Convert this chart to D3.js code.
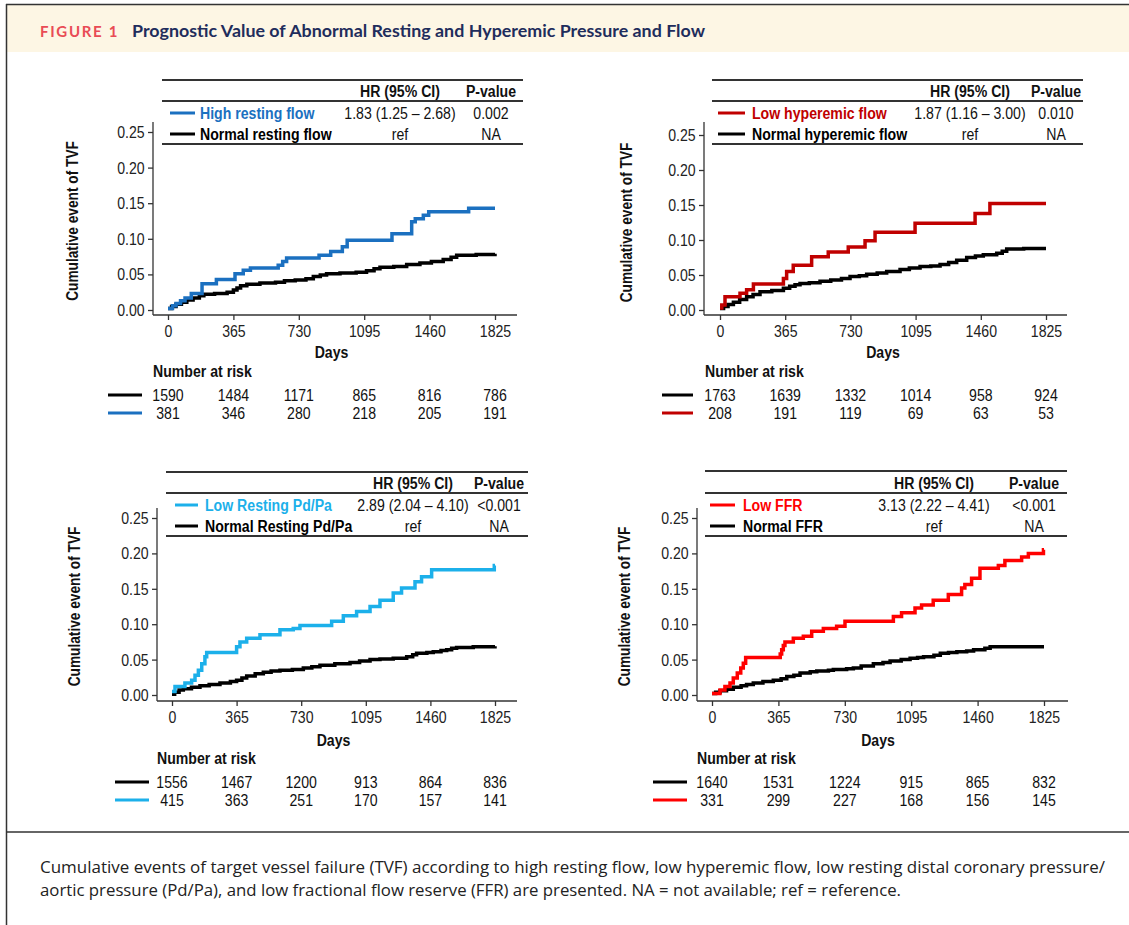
<!DOCTYPE html>
<html>
<head>
<meta charset="utf-8">
<script src="https://cdn.jsdelivr.net/npm/d3@7"></script>
<style>
  body { margin: 0; background: #fff; }
  svg { display: block; }
</style>
</head>
<body>
<div id="fig"></div>
<script>
// ---- data ----
const dayTicks = [0, 365, 730, 1095, 1460, 1825];
const yTicks = [0, 0.05, 0.10, 0.15, 0.20, 0.25];

const abnormalNames = ["High resting flow", "Low hyperemic flow", "Low Resting Pd/Pa", "Low FFR"];
const normalNames = ["Normal resting flow", "Normal hyperemic flow", "Normal Resting Pd/Pa", "Normal FFR"];
const hrValues = ["1.83 (1.25 \u2013 2.68)", "1.87 (1.16 \u2013 3.00)", "2.89 (2.04 \u2013 4.10)", "3.13 (2.22 \u2013 4.41)"];
const pValues = ["0.002", "0.010", "<0.001", "<0.001"];
const abnormalColors = ["#1b70c0", "#c00000", "#1cb0ea", "#ff0000"];

// number at risk: [normal, abnormal] at each day tick
const riskRestFlow = [[1590, 1484, 1171, 865, 816, 786], [381, 346, 280, 218, 205, 191]];
const riskHypFlow = [[1763, 1639, 1332, 1014, 958, 924], [208, 191, 119, 69, 63, 53]];
const riskPdPa = [[1556, 1467, 1200, 913, 864, 836], [415, 363, 251, 170, 157, 141]];
const riskFFR = [[1640, 1531, 1224, 915, 865, 832], [331, 299, 227, 168, 156, 145]];

// cumulative TVF curves, [day, cumulative event]
const highRestFlow = [[0,0.002],[25,0.006],[45,0.009],[70,0.013],[95,0.017],[130,0.023],[190,0.037],[270,0.043],[374,0.051],[420,0.056],[460,0.059],[615,0.063],[640,0.068],[662,0.073],[843,0.077],[908,0.082],[973,0.089],[1000,0.098],[1250,0.107],[1360,0.124],[1380,0.128],[1425,0.133],[1455,0.138],[1678,0.143],[1825,0.143]];
const normalRestFlow = [[0,0.002],[20,0.005],[45,0.008],[75,0.011],[105,0.014],[140,0.017],[175,0.020],[200,0.022],[260,0.023],[330,0.025],[365,0.028],[385,0.031],[405,0.034],[440,0.036],[513,0.038],[600,0.039],[650,0.041],[710,0.042],[770,0.044],[811,0.047],[850,0.049],[885,0.051],[960,0.052],[1050,0.053],[1108,0.055],[1150,0.058],[1183,0.060],[1260,0.061],[1332,0.064],[1406,0.066],[1470,0.068],[1536,0.071],[1580,0.074],[1611,0.077],[1720,0.078],[1825,0.079]];

const lowHypFlow = [[0,0.003],[10,0.007],[28,0.019],[112,0.024],[149,0.029],[187,0.037],[355,0.045],[373,0.055],[410,0.064],[513,0.076],[606,0.083],[718,0.090],[812,0.099],[868,0.111],[1092,0.124],[1428,0.138],[1511,0.152],[1825,0.152]];
const normalHypFlow = [[0,0.002],[20,0.005],[45,0.008],[75,0.011],[110,0.015],[149,0.019],[185,0.022],[224,0.026],[290,0.028],[355,0.031],[390,0.034],[420,0.036],[448,0.038],[500,0.039],[560,0.041],[620,0.043],[680,0.045],[728,0.048],[780,0.049],[821,0.051],[880,0.053],[933,0.055],[1008,0.058],[1060,0.060],[1120,0.062],[1180,0.063],[1232,0.065],[1280,0.068],[1325,0.071],[1381,0.075],[1430,0.077],[1474,0.079],[1549,0.081],[1580,0.084],[1605,0.087],[1700,0.088],[1825,0.088]];

const lowPdPa = [[0,0.005],[17,0.012],[73,0.017],[111,0.021],[130,0.028],[149,0.035],[168,0.044],[186,0.054],[196,0.060],[365,0.068],[384,0.075],[422,0.080],[497,0.085],[610,0.092],[685,0.094],[723,0.098],[902,0.104],[968,0.112],[1043,0.118],[1119,0.125],[1175,0.134],[1250,0.144],[1297,0.151],[1373,0.160],[1410,0.167],[1467,0.177],[1821,0.183],[1825,0.183]];
const normalPdPa = [[0,0.001],[15,0.004],[40,0.007],[64,0.009],[110,0.011],[158,0.013],[210,0.015],[271,0.017],[330,0.019],[365,0.021],[395,0.024],[422,0.027],[470,0.030],[516,0.032],[560,0.034],[610,0.035],[680,0.036],[742,0.038],[790,0.040],[836,0.042],[920,0.044],[1006,0.046],[1060,0.048],[1119,0.050],[1175,0.051],[1250,0.052],[1326,0.054],[1360,0.057],[1382,0.059],[1440,0.060],[1476,0.061],[1520,0.063],[1552,0.064],[1580,0.066],[1608,0.067],[1702,0.068],[1825,0.069]];

const lowFFR = [[0,0.002],[44,0.007],[71,0.012],[99,0.017],[117,0.024],[139,0.031],[158,0.038],[172,0.045],[185,0.053],[375,0.058],[383,0.064],[392,0.070],[401,0.075],[447,0.080],[502,0.083],[548,0.090],[612,0.094],[685,0.097],[731,0.104],[997,0.111],[1042,0.116],[1116,0.123],[1152,0.127],[1216,0.134],[1299,0.142],[1372,0.151],[1390,0.156],[1427,0.165],[1473,0.179],[1574,0.183],[1610,0.190],[1702,0.195],[1739,0.200],[1822,0.205],[1825,0.205]];
const normalFFR = [[0,0.002],[20,0.004],[44,0.006],[80,0.008],[117,0.011],[160,0.013],[190,0.015],[227,0.017],[280,0.019],[337,0.021],[380,0.023],[411,0.026],[450,0.028],[484,0.031],[540,0.033],[576,0.034],[640,0.035],[667,0.036],[740,0.037],[777,0.038],[820,0.041],[887,0.044],[940,0.046],[979,0.048],[1040,0.050],[1089,0.052],[1130,0.053],[1163,0.054],[1220,0.056],[1255,0.059],[1300,0.060],[1346,0.061],[1400,0.062],[1438,0.064],[1500,0.066],[1529,0.068],[1825,0.068]];

const abnormalCurves = [highRestFlow, lowHypFlow, lowPdPa, lowFFR];
const normalCurves = [normalRestFlow, normalHypFlow, normalPdPa, normalFFR];
const riskTables = [riskRestFlow, riskHypFlow, riskPdPa, riskFFR];

// ---- page layout (pixel positions for each panel) ----
const W = 1129, H = 925;
const layout = [
  {ax:153, bx:315, x0:168, x1:495, xEnd:517, y0:310, y25:132, yTop:122, tabL:162, tabR:523, tabY:[80,101,144], rowY:[113,134], hrX:400, pX:491, legL:170, legR:195, labX:200, titleX:72, daysY:352, narX:153, narY:371, riskY:[395,413], riskL:108, riskR:142, tickY:332},
  {ax:704, bx:315, x0:720, x1:1046, xEnd:1067, y0:310, y25:135, yTop:122, tabL:712, tabR:1083, tabY:[80,101,144], rowY:[113,134], hrX:970, pX:1056, legL:718, legR:745, labX:752, titleX:626, daysY:352, narX:705, narY:371, riskY:[395,413], riskL:662, riskR:693, tickY:332},
  {ax:157, bx:701, x0:172, x1:495, xEnd:517, y0:695, y25:518, yTop:508, tabL:166, tabR:528, tabY:[472,493,536], rowY:[505,526], hrX:413, pX:499, legL:175, legR:198, labX:205, titleX:74, daysY:740, narX:157, narY:758, riskY:[782,800], riskL:115, riskR:149, tickY:720},
  {ax:697, bx:701, x0:712, x1:1044, xEnd:1068, y0:695, y25:518, yTop:508, tabL:705, tabR:1067, tabY:[471,493,536], rowY:[505,526], hrX:934, pX:1034, legL:710, legR:735, labX:743, titleX:624, daysY:740, narX:697, narY:758, riskY:[782,800], riskL:653, riskR:687, tickY:720}
];

// plot text is a narrow sans; squeeze Liberation Sans horizontally
const plotFont = "'Liberation Sans', Arial, sans-serif";
const SX = 0.83;
const axisColor = "#333";

const svg = d3.select("#fig").append("svg")
  .attr("width", W)
  .attr("height", H);

svg.append("rect").attr("width", W).attr("height", H).attr("fill", "#fff");

// header band + frame
svg.append("rect").attr("x", 7).attr("y", 5).attr("width", W - 7).attr("height", 47).attr("fill", "#fdf6e4");
svg.append("line").attr("x1", 6).attr("x2", W).attr("y1", 4.5).attr("y2", 4.5).attr("stroke", "#333").attr("stroke-width", 1.5);
svg.append("line").attr("x1", 6.5).attr("x2", 6.5).attr("y1", 4).attr("y2", H).attr("stroke", "#333").attr("stroke-width", 1.5);
svg.append("line").attr("x1", 6).attr("x2", W).attr("y1", 832).attr("y2", 832).attr("stroke", "#333").attr("stroke-width", 1.5);

svg.append("text").attr("x", 40).attr("y", 37)
  .attr("font-family", "Lato, 'Noto Sans', sans-serif").attr("font-weight", 700).attr("font-size", 15)
  .attr("letter-spacing", 1.7).attr("fill", "#e94b55")
  .text("FIGURE 1");
svg.append("text").attr("x", 132).attr("y", 37)
  .attr("font-family", "Lato, 'Noto Sans', sans-serif").attr("font-weight", 700).attr("font-size", 17)
  .attr("fill", "#1f2d5c").attr("textLength", 573).attr("lengthAdjust", "spacingAndGlyphs")
  .text("Prognostic Value of Abnormal Resting and Hyperemic Pressure and Flow");

const captionLines = [
  "Cumulative events of target vessel failure (TVF) according to high resting flow, low hyperemic flow, low resting distal coronary pressure/",
  "aortic pressure (Pd/Pa), and low fractional flow reserve (FFR) are presented. NA = not available; ref = reference."
];
const captionWidths = [1065, 861];
svg.append("g").selectAll("text").data(captionLines).enter().append("text")
  .attr("x", 40).attr("y", (d, i) => 873 + i * 23)
  .attr("font-family", "'Open Sans', 'Noto Sans', sans-serif").attr("font-size", 16).attr("fill", "#222")
  .attr("textLength", (d, i) => captionWidths[i]).attr("lengthAdjust", "spacingAndGlyphs")
  .text(d => d);

// narrow text placed at (x, y)
function ntext(g, x, y, str, opts) {
  opts = opts || {};
  return g.append("text")
    .attr("transform", "translate(" + x + "," + y + ")" + (opts.rotate ? " rotate(" + opts.rotate + ")" : "") + " scale(" + SX + ",1)")
    .attr("dy", "0.35em")
    .attr("text-anchor", opts.anchor || "start")
    .attr("font-weight", opts.bold ? 700 : 400)
    .attr("font-size", opts.size || 17)
    .attr("fill", opts.color || "#111")
    .text(str);
}

// ---- one Kaplan-Meier style panel ----
function drawPanel(i) {
  const L = layout[i];
  const g = svg.append("g").attr("font-family", plotFont);

  const x = d3.scaleLinear().domain([0, 1825]).range([L.x0, L.x1]);
  const y = d3.scaleLinear().domain([0, 0.25]).range([L.y0, L.y25]);

  // axes
  const yAxis = g.append("g").attr("transform", "translate(" + L.ax + ",0)")
    .call(d3.axisLeft(y).tickValues(yTicks).tickSize(5).tickPadding(5).tickFormat(d3.format(".2f")));
  const xAxis = g.append("g").attr("transform", "translate(0," + L.bx + ")")
    .call(d3.axisBottom(x).tickValues(dayTicks).tickSize(5).tickPadding(5).tickFormat(d3.format("d")));
  [yAxis, xAxis].forEach(a => {
    a.select(".domain").remove();
    a.selectAll("line").attr("stroke", axisColor).attr("stroke-width", 1.3);
    a.selectAll("text").attr("font-family", plotFont).attr("font-size", 17).attr("fill", "#222")
      .attr("transform", "scale(" + SX + ",1)");
  });
  g.append("line").attr("x1", L.ax).attr("x2", L.ax).attr("y1", L.yTop).attr("y2", L.bx)
    .attr("stroke", axisColor).attr("stroke-width", 1.3);
  g.append("line").attr("x1", L.ax).attr("x2", L.xEnd).attr("y1", L.bx).attr("y2", L.bx)
    .attr("stroke", axisColor).attr("stroke-width", 1.3);

  // curves
  const line = d3.line().x(d => x(d[0])).y(d => y(d[1])).curve(d3.curveStepAfter);
  g.append("path").datum(normalCurves[i]).attr("d", line)
    .attr("fill", "none").attr("stroke", "#000").attr("stroke-width", 3.5);
  g.append("path").datum(abnormalCurves[i]).attr("d", line)
    .attr("fill", "none").attr("stroke", abnormalColors[i]).attr("stroke-width", 3.5);

  // axis titles
  ntext(g, L.titleX, (L.y0 + L.y25) / 2, "Cumulative event of TVF", {rotate: -90, anchor: "middle", bold: true, size: 16.5});
  ntext(g, (L.x0 + L.x1) / 2, L.daysY, "Days", {anchor: "middle", bold: true});

  // HR table
  L.tabY.forEach(ty => {
    g.append("line").attr("x1", L.tabL).attr("x2", L.tabR).attr("y1", ty).attr("y2", ty)
      .attr("stroke", axisColor).attr("stroke-width", 2);
  });
  const headY = (L.tabY[0] + L.tabY[1]) / 2 + 1;
  ntext(g, L.hrX, headY, "HR (95% CI)", {anchor: "middle", bold: true});
  ntext(g, L.pX, headY, "P-value", {anchor: "middle", bold: true});

  const rows = [
    {name: abnormalNames[i], color: abnormalColors[i], hr: hrValues[i], p: pValues[i]},
    {name: normalNames[i], color: "#000", hr: "ref", p: "NA"}
  ];
  rows.forEach((r, k) => {
    const ry = L.rowY[k];
    g.append("line").attr("x1", L.legL).attr("x2", L.legR).attr("y1", ry).attr("y2", ry)
      .attr("stroke", r.color).attr("stroke-width", 3);
    ntext(g, L.labX, ry, r.name, {bold: true, color: r.color});
    ntext(g, L.hrX, ry, r.hr, {anchor: "middle"});
    ntext(g, L.pX, ry, r.p, {anchor: "middle"});
  });

  // number at risk
  ntext(g, L.narX, L.narY, "Number at risk", {bold: true});
  const riskColors = ["#000", abnormalColors[i]];
  riskTables[i].forEach((vals, k) => {
    const ry = L.riskY[k];
    g.append("line").attr("x1", L.riskL).attr("x2", L.riskR).attr("y1", ry).attr("y2", ry)
      .attr("stroke", riskColors[k]).attr("stroke-width", 3);
    vals.forEach((v, j) => ntext(g, x(dayTicks[j]), ry, v, {anchor: "middle"}));
  });
}

for (let i = 0; i < 4; i++) drawPanel(i);
</script>
</body>
</html>
